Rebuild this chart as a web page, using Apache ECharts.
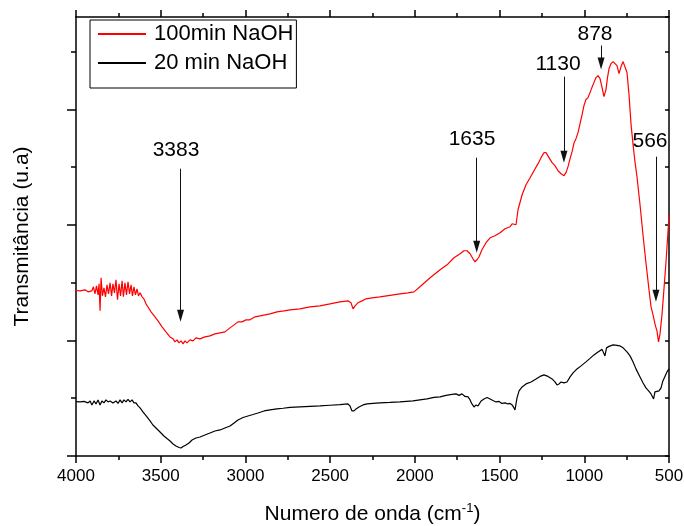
<!DOCTYPE html>
<html><head><meta charset="utf-8">
<script src="https://cdn.jsdelivr.net/npm/echarts@6/dist/echarts.min.js"></script>
<style>html,body{margin:0;padding:0;background:#fff}#c{width:684px;height:526px}</style>
</head><body><div id="c"></div>
<script>
const seriesNames = ['100min NaOH', '20 min NaOH'];
const xMin = 500, xMax = 4000, xStep = 500;
const yMin = 0, yMax = 76;
const yMajorTicks = [0, 20, 40, 60];
const yMinorTicks = [10, 30, 50, 70];

// [wavenumber, transmittance (a.u.)]
const red100 = [
[4000,28.65],[3976,28.6],[3947,28.77],[3929,28.42],[3906,28.6],[3897,29.29],[3888,28.08],[3879,29.46],[3870,27.9],[3864,29.8],
[3858,25.13],[3852,30.85],[3844,27.73],[3835,29.12],[3826,27.56],[3817,29.64],[3808,28.08],[3799,29.98],[3790,27.73],[3782,29.81],
[3773,28.25],[3764,30.5],[3755,27.04],[3746,29.81],[3737,27.73],[3728,30.33],[3720,27.56],[3711,29.98],[3702,27.9],[3693,30.16],
[3684,28.08],[3675,29.64],[3667,27.73],[3658,29.29],[3649,27.9],[3640,28.94],[3631,27.73],[3622,28.25],[3610,27.56],[3599,27.2],
[3587,26.34],[3575,25.8],[3557,24.96],[3534,24.1],[3516,23.4],[3492,22.36],[3469,21.49],[3445,20.62],[3427,20.28],[3416,19.76],
[3404,20.1],[3392,19.58],[3380,19.93],[3368,19.41],[3357,19.93],[3345,19.58],[3327,20.1],[3309,19.93],[3292,20.45],[3268,20.28],
[3239,20.62],[3209,20.8],[3180,21.14],[3150,21.32],[3121,21.49],[3091,22.18],[3067,22.7],[3044,23.22],[3020,23.22],[2997,23.57],
[2973,23.57],[2943,24.1],[2914,24.26],[2884,24.44],[2855,24.61],[2814,24.96],[2772,25.13],[2737,25.3],[2678,25.48],[2619,25.82],
[2560,26.0],[2501,26.34],[2442,26.69],[2395,26.86],[2377,26.52],[2365,25.48],[2353,26.0],[2336,26.52],[2312,26.86],[2288,27.21],
[2253,27.38],[2206,27.56],[2147,27.82],[2088,28.08],[2041,28.25],[2005,28.42],[1970,29.29],[1910,30.85],[1851,32.24],[1810,33.1],
[1769,34.32],[1733,35.01],[1710,35.53],[1692,35.53],[1674,35.01],[1657,34.14],[1645,33.62],[1633,33.97],[1621,34.49],[1604,35.7],
[1580,36.92],[1556,37.78],[1527,38.13],[1497,38.65],[1468,39.34],[1438,39.69],[1426,40.2],[1415,39.86],[1403,40.03],[1391,42.63],
[1367,45.23],[1344,46.97],[1320,48.18],[1297,49.39],[1273,50.61],[1255,51.65],[1238,52.51],[1226,52.51],[1208,51.65],[1190,50.78],
[1173,50.26],[1155,49.39],[1137,48.87],[1120,48.53],[1108,49.05],[1096,50.09],[1084,51.47],[1072,52.69],[1060,54.25],[1049,54.94],
[1037,55.98],[1025,57.54],[1013,59.1],[1002,60.66],[990,61.72],[978,62.05],[966,62.91],[955,63.78],[943,64.64],[931,65.51],
[919,65.86],[907,65.34],[895,63.78],[884,62.22],[872,63.43],[863,65.51],[854,67.07],[842,67.94],[830,68.28],[819,68.28],
[807,67.59],[795,66.2],[783,67.42],[771,68.28],[760,67.94],[748,66.38],[736,62.56],[724,57.37],[712,53.9],[701,50.95],
[689,48.35],[671,43.5],[653,38.13],[636,33.45],[618,28.77],[606,25.82],[597,24.78],[589,24.44],[580,22.53],[571,21.66],
[562,19.76],[553,21.14],[541,24.61],[530,28.77],[518,33.45],[506,38.82],[500,41.77]
];

const black20 = [
[4000,9.41],[3976,9.36],[3953,9.45],[3929,9.19],[3917,9.53],[3906,8.84],[3894,9.53],[3882,9.01],[3870,9.71],[3858,8.84],
[3847,9.53],[3835,9.19],[3823,9.71],[3811,9.36],[3799,9.53],[3782,9.19],[3764,9.53],[3752,9.1],[3740,9.71],[3728,9.19],
[3717,9.71],[3705,9.36],[3693,9.79],[3681,9.36],[3669,9.71],[3658,9.19],[3646,9.19],[3634,8.67],[3622,8.32],[3605,7.63],
[3581,6.76],[3563,6.07],[3546,5.37],[3522,4.68],[3504,4.16],[3481,3.47],[3463,3.03],[3445,2.6],[3427,2.08],[3410,1.73],
[3392,1.47],[3380,1.39],[3368,1.65],[3351,1.91],[3333,2.25],[3315,2.77],[3292,3.12],[3268,3.29],[3239,3.64],[3209,3.99],
[3180,4.33],[3150,4.51],[3121,4.85],[3091,5.2],[3067,5.72],[3044,6.24],[3014,6.67],[2985,6.93],[2955,7.19],[2926,7.45],
[2890,7.8],[2855,7.97],[2814,8.15],[2778,8.27],[2737,8.41],[2678,8.49],[2619,8.58],[2560,8.67],[2501,8.79],[2442,8.89],
[2395,9.01],[2383,8.67],[2371,7.8],[2359,7.8],[2347,8.15],[2330,8.49],[2306,8.84],[2282,9.01],[2247,9.1],[2206,9.19],
[2147,9.27],[2088,9.36],[2011,9.53],[1970,9.71],[1928,9.88],[1887,10.14],[1851,10.23],[1816,10.49],[1781,10.66],[1757,10.75],
[1739,10.49],[1722,10.75],[1704,10.31],[1686,10.23],[1674,9.71],[1663,9.01],[1651,8.49],[1639,8.84],[1627,8.67],[1609,9.53],
[1592,9.88],[1574,10.14],[1556,9.88],[1539,9.62],[1521,9.36],[1503,9.45],[1486,9.1],[1468,9.19],[1450,9.01],[1438,9.1],
[1426,8.84],[1415,8.32],[1409,7.97],[1397,10.05],[1385,11.27],[1367,11.96],[1344,12.48],[1314,12.82],[1285,13.34],[1261,13.78],
[1238,14.04],[1214,13.78],[1190,13.34],[1173,12.82],[1161,12.3],[1149,12.48],[1137,12.82],[1120,12.65],[1102,12.82],[1084,13.69],
[1066,14.38],[1043,15.08],[1019,15.6],[990,16.29],[966,16.9],[943,17.5],[919,18.02],[895,18.46],[884,18.37],[878,17.33],
[869,18.72],[854,18.98],[830,19.24],[807,19.15],[789,19.06],[771,18.72],[748,18.02],[730,17.33],[712,16.29],[695,15.08],
[671,13.69],[653,12.65],[636,11.79],[618,11.18],[606,10.75],[597,10.92],[591,9.88],[583,11.09],[571,11.18],[559,11.27],
[547,11.79],[536,13.0],[524,13.78],[512,14.56],[500,15.08]
];

// peak annotations
const peakLabels = ['3383', '1635', '1130', '878', '566'];
const arrowWn  = [3383, 1635, 1120, 901, 577];
const arrowTop = [49.74, 51.65, 65.68, 71.06, 51.82];
const arrowTip = [23.22, 35.18, 50.78, 66.9, 26.69];
const labelWn  = [3410, 1663, 1155, 937, 612];
const labelT   = [53.03, 54.94, 67.85, 73.05, 54.6];

const FONT = "'Liberation Sans', Arial, sans-serif";
const AX = {color: '#000', width: 1.5};
const tipOffset = 1.04; // half arrowhead height in value units

const chart = echarts.init(document.getElementById('c'), null, {renderer: 'canvas'});

function xAxisCfg(pos, extra) {
  return Object.assign({
    type: 'value', min: xMin, max: xMax, interval: xStep, inverse: true, position: pos,
    axisLine: {show: true, onZero: false, lineStyle: AX},
    axisTick: {show: true, length: 7, lineStyle: AX},
    minorTick: {show: true, splitNumber: 2, length: 4, lineStyle: AX},
    splitLine: {show: false}, minorSplitLine: {show: false},
    axisLabel: {show: false}
  }, extra || {});
}

chart.setOption({
  animation: false,
  backgroundColor: '#fff',
  textStyle: {fontFamily: FONT},
  grid: {left: 76, right: 15, top: 17, bottom: 70, containLabel: false, outerBoundsMode: 'none'},
  legend: {
    left: 90, top: 20, orient: 'vertical',
    data: seriesNames,
    itemWidth: 48, itemHeight: 14, itemGap: 7,
    padding: [3, 3, 14, 7],
    borderColor: '#000', borderWidth: 1, borderRadius: 0,
    itemStyle: {opacity: 0},
    textStyle: {fontSize: 22, color: '#000', fontFamily: FONT, padding: [0, 0, 0, 3]},
    selectedMode: false
  },
  xAxis: [
    xAxisCfg('bottom', {
      axisLabel: {show: true, fontSize: 17, color: '#000', margin: 12, fontFamily: FONT,
        formatter: v => String(v)},
      name: '{a|Numero de onda (cm}{s|-1}{a|)}',
      nameLocation: 'middle', nameGap: 46,
      nameTextStyle: {
        color: '#000', fontFamily: FONT, fontSize: 21,
        rich: {
          a: {fontSize: 21, lineHeight: 24, color: '#000', fontFamily: FONT},
          s: {fontSize: 13, lineHeight: 14, verticalAlign: 'top', color: '#000', fontFamily: FONT}
        }
      }
    }),
    xAxisCfg('top')
  ],
  yAxis: [
    {
      type: 'value', min: yMin, max: yMax, position: 'left',
      axisLine: {show: true, onZero: false, lineStyle: AX},
      axisTick: {show: true, length: 9, customValues: yMajorTicks, lineStyle: AX},
      axisLabel: {show: false}, splitLine: {show: false},
      name: 'Transmitância (u.a)', nameLocation: 'middle', nameGap: 43,
      nameTextStyle: {fontSize: 21, color: '#000', fontFamily: FONT}
    },
    {
      type: 'value', min: yMin, max: yMax, position: 'left',
      axisLine: {show: false, onZero: false},
      axisTick: {show: true, length: 5, customValues: yMinorTicks, lineStyle: AX},
      axisLabel: {show: false}, splitLine: {show: false}
    },
    {
      type: 'value', min: yMin, max: yMax, interval: 10, position: 'right',
      axisLine: {show: true, onZero: false, lineStyle: AX},
      axisTick: {show: true, inside: true, length: 4, lineStyle: AX},
      axisLabel: {show: false}, splitLine: {show: false}
    }
  ],
  series: [
    {
      name: seriesNames[0], type: 'line', data: red100, xAxisIndex: 0, yAxisIndex: 0,
      symbol: 'none', showSymbol: false, silent: true,
      lineStyle: {color: '#ff0000', width: 1.2}, itemStyle: {color: '#ff0000'},
      z: 3,
      markLine: {
        silent: true, animation: false,
        symbol: ['none', 'triangle'], symbolSize: [7, 12],
        lineStyle: {color: '#111', width: 1, type: 'solid'},
        label: {show: false},
        emphasis: {disabled: true},
        data: arrowWn.map((w, i) => [
          {coord: [w, arrowTop[i]]},
          {coord: [w, arrowTip[i] + tipOffset]}
        ])
      }
    },
    {
      name: seriesNames[1], type: 'line', data: black20, xAxisIndex: 0, yAxisIndex: 0,
      symbol: 'none', showSymbol: false, silent: true,
      lineStyle: {color: '#000', width: 1.2}, itemStyle: {color: '#000'},
      z: 3
    },
    {
      name: 'labels', type: 'custom', xAxisIndex: 0, yAxisIndex: 0, silent: true, z: 5,
      data: labelWn.map((w, i) => [w, labelT[i], i]),
      renderItem: function (params, api) {
        const p = api.coord([api.value(0), api.value(1)]);
        return {
          type: 'text',
          x: Math.round(p[0]), y: Math.round(p[1]),
          style: {
            text: peakLabels[api.value(2)],
            fill: '#000', font: '21px ' + FONT,
            align: 'center', verticalAlign: 'middle'
          }
        };
      }
    }
  ]
});
</script>
</body></html>
